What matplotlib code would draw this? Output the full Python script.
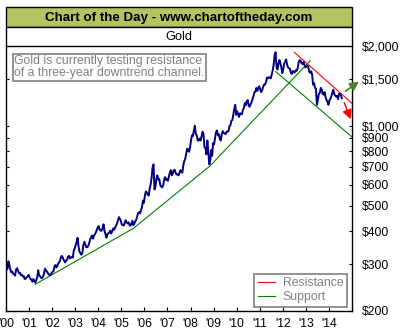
import numpy as np
import matplotlib
matplotlib.use("Agg")
import matplotlib.pyplot as plt
from matplotlib.patches import Rectangle
from matplotlib.lines import Line2D
from matplotlib.ticker import FixedLocator, NullLocator, FixedFormatter

plt.rcParams['font.family'] = ['Liberation Sans', 'DejaVu Sans']

# ---------------- data ----------------
start_year = 2000
points_per_year = 24  # semi-monthly readings
gold_2000 = [285, 289, 308, 298, 286, 280, 282, 276, 275, 272, 287, 290, 284, 278, 279, 273, 274, 270, 271, 264, 265, 268, 270, 274]
gold_2001 = [268, 264, 263, 258, 264, 260, 256, 262, 268, 285, 273, 270, 267, 266, 270, 276, 289, 285, 282, 278, 275, 273, 275, 278]
gold_2002 = [281, 283, 295, 298, 292, 297, 303, 306, 312, 322, 322, 315, 310, 305, 310, 312, 320, 323, 316, 318, 320, 318, 338, 345]
gold_2003 = [355, 365, 378, 350, 335, 330, 326, 332, 355, 365, 356, 348, 348, 352, 360, 372, 380, 385, 375, 385, 390, 396, 405, 414]
gold_2004 = [418, 405, 402, 402, 412, 425, 400, 390, 378, 390, 393, 396, 402, 392, 400, 410, 405, 412, 420, 428, 440, 452, 446, 438]
gold_2005 = [424, 422, 420, 430, 440, 432, 428, 432, 422, 419, 428, 438, 422, 428, 436, 442, 455, 468, 472, 468, 480, 494, 522, 512]
gold_2006 = [545, 565, 560, 550, 545, 580, 600, 638, 695, 715, 575, 590, 630, 650, 625, 630, 598, 590, 585, 595, 625, 640, 625, 630]
gold_2007 = [620, 645, 665, 680, 650, 660, 680, 682, 665, 655, 655, 650, 665, 680, 670, 665, 712, 735, 750, 785, 820, 805, 798, 830]
gold_2008 = [880, 920, 915, 960, 1000, 930, 920, 880, 880, 895, 880, 915, 950, 930, 830, 825, 780, 880, 800, 715, 740, 810, 770, 860]
gold_2009 = [850, 900, 945, 960, 920, 930, 890, 880, 930, 955, 940, 935, 930, 950, 950, 955, 995, 1005, 1045, 1050, 1100, 1160, 1200, 1100]
gold_2010 = [1135, 1105, 1080, 1115, 1110, 1105, 1150, 1165, 1220, 1195, 1235, 1250, 1190, 1180, 1205, 1230, 1260, 1295, 1340, 1345, 1390, 1355, 1390, 1410]
gold_2011 = [1370, 1340, 1360, 1405, 1430, 1430, 1460, 1520, 1510, 1525, 1520, 1510, 1560, 1620, 1700, 1850, 1895, 1660, 1630, 1720, 1770, 1720, 1660, 1580]
gold_2012 = [1640, 1720, 1740, 1780, 1700, 1660, 1650, 1640, 1580, 1570, 1610, 1590, 1590, 1620, 1615, 1650, 1735, 1770, 1760, 1720, 1710, 1740, 1700, 1660]
gold_2013 = [1670, 1685, 1670, 1600, 1585, 1605, 1560, 1430, 1450, 1390, 1380, 1200, 1250, 1320, 1330, 1390, 1370, 1320, 1310, 1340, 1280, 1250, 1230, 1200]
gold_2014 = [1245, 1265, 1290, 1330, 1370, 1320, 1300, 1290, 1295, 1260, 1320, 1320, 1300, 1270]

# trend lines (year, price)
support_years = [2001.26, 2005.52, 2008.84, 2013.18]
support_prices = [252, 410, 705, 1757]
support2_years = [2011.70, 2015.0]
support2_prices = [1600, 907]
resist_years = [2012.50, 2015.0]
resist_prices = [1894, 1216]

# arrows: (start year, start price, end year, end price)
up_arrow = (2014.62, 1333, 2015.40, 1488)
down_arrow = (2014.62, 1251, 2014.98, 1035)

year_ticks = list(range(2000, 2015))
year_labels = ["'%02d" % (y % 100) for y in year_ticks]
price_ticks = [200, 300, 400, 500, 600, 700, 800, 900, 1000, 1500, 2000]
price_labels = ['$200', '$300', '$400', '$500', '$600', '$700', '$800', '$900', '$1,000', '$1,500', '$2,000']

title_text = 'Chart of the Day - www.chartoftheday.com'
subtitle_text = 'Gold'
note_text = 'Gold is currently testing resistance\nof a three-year downtrend channel.'

# ---------------- figure ----------------
W, H = 402, 335
fig = plt.figure(figsize=(W / 100, H / 100), dpi=100)

def fx(px):
    return px / W

def fy(py):
    return 1 - py / H

ax_l, ax_r, ax_t, ax_b = 6, 352, 46, 311
ax = fig.add_axes([fx(ax_l), fy(ax_b), fx(ax_r - ax_l), (ax_b - ax_t) / H])

gold = np.array(gold_2000 + gold_2001 + gold_2002 + gold_2003 + gold_2004 + gold_2005 + gold_2006
                + gold_2007 + gold_2008 + gold_2009 + gold_2010 + gold_2011 + gold_2012 + gold_2013 + gold_2014, dtype=float)
t = start_year + (np.arange(len(gold)) + 0.5) / points_per_year

ax.plot(t, gold, color='#000080', lw=1.4, zorder=3)
ax.plot(support_years, support_prices, color='#008000', lw=0.8, zorder=2)
ax.plot(support2_years, support2_prices, color='#008000', lw=0.8, zorder=2)
ax.plot(resist_years, resist_prices, color='#FF0000', lw=0.8, zorder=2)

ax.annotate('', xy=(up_arrow[2], up_arrow[3]), xytext=(up_arrow[0], up_arrow[1]),
            arrowprops=dict(arrowstyle='-|>', color='#4F7F2A', lw=1.3, mutation_scale=13),
            annotation_clip=False, zorder=5)
ax.annotate('', xy=(down_arrow[2], down_arrow[3]), xytext=(down_arrow[0], down_arrow[1]),
            arrowprops=dict(arrowstyle='-|>', color='#FF0000', lw=1.0, mutation_scale=14),
            annotation_clip=False, zorder=5)

ax.set_yscale('log')
ax.set_xlim(2000, 2015)
ax.set_ylim(200, 2000)
ax.yaxis.set_major_locator(FixedLocator(price_ticks))
ax.yaxis.set_major_formatter(FixedFormatter(price_labels))
ax.yaxis.set_minor_locator(NullLocator())
ax.xaxis.set_major_locator(FixedLocator(year_ticks))
ax.xaxis.set_major_formatter(FixedFormatter(year_labels))
ax.xaxis.set_minor_locator(NullLocator())

ax.tick_params(axis='y', which='both', direction='in', left=True, right=True,
               labelleft=False, labelright=True, length=2.5, width=0.8, pad=7, labelsize=8.7)
ax.tick_params(axis='x', direction='in', length=3, width=0.8, pad=5, labelsize=8.7)
for s in ax.spines.values():
    s.set_linewidth(1.0)
ax.spines['top'].set_visible(False)

# legend
handles = [Line2D([], [], color='#FF0000', lw=0.8), Line2D([], [], color='#008000', lw=0.8)]
leg = ax.legend(handles, ['Resistance', 'Support'], loc='lower right',
                bbox_to_anchor=(0.985, 0.016), borderaxespad=0, fancybox=False,
                framealpha=1, edgecolor='#808080', fontsize=8.8, handlelength=1.4,
                handletextpad=0.6, labelspacing=0.15, borderpad=0.3)
leg.get_frame().set_linewidth(1.2)
for txt in leg.get_texts():
    txt.set_color('#808080')

# note box
fig.text(fx(14.5), fy(67.3), note_text, color='#808080', fontsize=8.8, va='center', ha='left',
         linespacing=1.0,
         bbox=dict(boxstyle='square,pad=0.12', facecolor='white', edgecolor='#808080', lw=1.2))

# title frame
fig.patches.append(Rectangle((fx(ax_l), fy(27.3)), fx(ax_r - ax_l), (27.3 - 7) / H,
                             transform=fig.transFigure, facecolor='#B4C462', edgecolor='black', lw=1.0))
fig.patches.append(Rectangle((fx(ax_l), fy(45.7)), fx(ax_r - ax_l), (45.7 - 27.3) / H,
                             transform=fig.transFigure, facecolor='white', edgecolor='black', lw=1.0))
fig.text(fx((ax_l + ax_r) / 2), fy(17.5), title_text, ha='center', va='center',
         fontsize=9.6, fontweight='bold', color='black')
fig.text(fx((ax_l + ax_r) / 2), fy(36.8), subtitle_text, ha='center', va='center',
         fontsize=9.2, color='black')

fig.savefig('out.png', dpi=100)
